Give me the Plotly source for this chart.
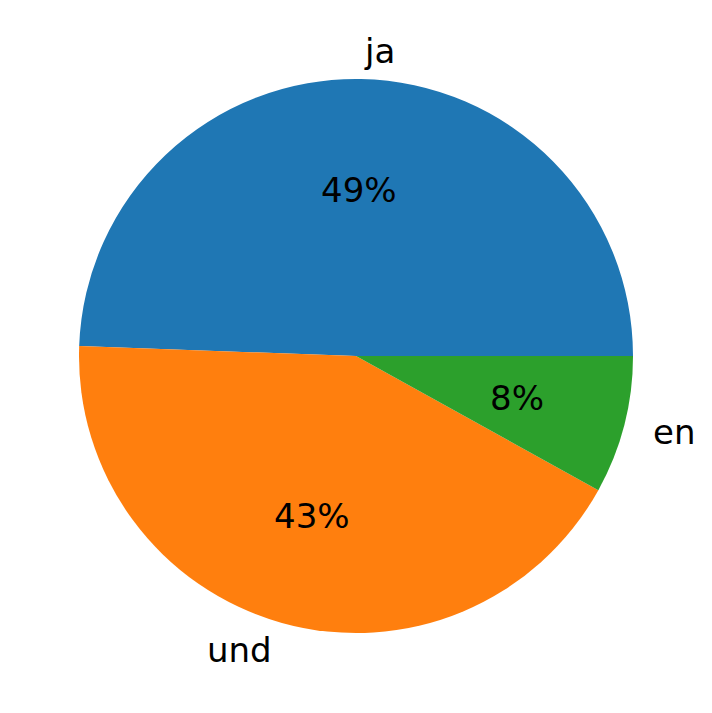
import math
import plotly.graph_objects as go

labels = ["ja", "und", "en"]
counts = [43, 37, 7]
colors = ["#1f77b4", "#ff7f0e", "#2ca02c"]

W, H = 712, 713
# pie centre (px from left / bottom) and radius; page body adds ~8px offset
cx, cy, r = 348, 365, 277

total = sum(counts)
# plotly places the end of the first counterclockwise slice at the rotation
# angle; shift it so the first slice starts at 3 o'clock like matplotlib
rot = 90 - 360 * counts[0] / total

fig = go.Figure(go.Pie(
    labels=labels,
    values=counts,
    sort=False,
    direction="counterclockwise",
    rotation=rot,
    marker=dict(colors=colors, line=dict(width=0)),
    textinfo="none",
    hoverinfo="skip",
    showlegend=False,
    domain=dict(x=[(cx - r) / W, (cx + r) / W], y=[(cy - r) / H, (cy + r) / H]),
))

# matplotlib-style labels (1.1 r) and percentages (0.6 r)
start = 0.0
for lab, v in zip(labels, counts):
    frac = v / total
    mid = math.radians((start + frac / 2) * 360)
    start += frac
    ca, sa = math.cos(mid), math.sin(mid)
    fig.add_annotation(
        x=(cx + 1.1 * r * ca) / W, y=(cy + 1.1 * r * sa) / H,
        xref="paper", yref="paper", text=lab, showarrow=False,
        xanchor="left" if ca > 0 else "right", yanchor="middle",
        font=dict(size=34, color="black"),
    )
    fig.add_annotation(
        x=(cx + 0.6 * r * ca) / W, y=(cy + 0.6 * r * sa) / H,
        xref="paper", yref="paper", text=f"{frac * 100:.0f}%", showarrow=False,
        xanchor="center", yanchor="middle",
        font=dict(size=34, color="black"),
    )

fig.update_layout(
    width=W, height=H,
    margin=dict(l=0, r=0, t=0, b=0),
    paper_bgcolor="white",
    font=dict(family="DejaVu Sans"),
)
fig.write_html("out.html")
